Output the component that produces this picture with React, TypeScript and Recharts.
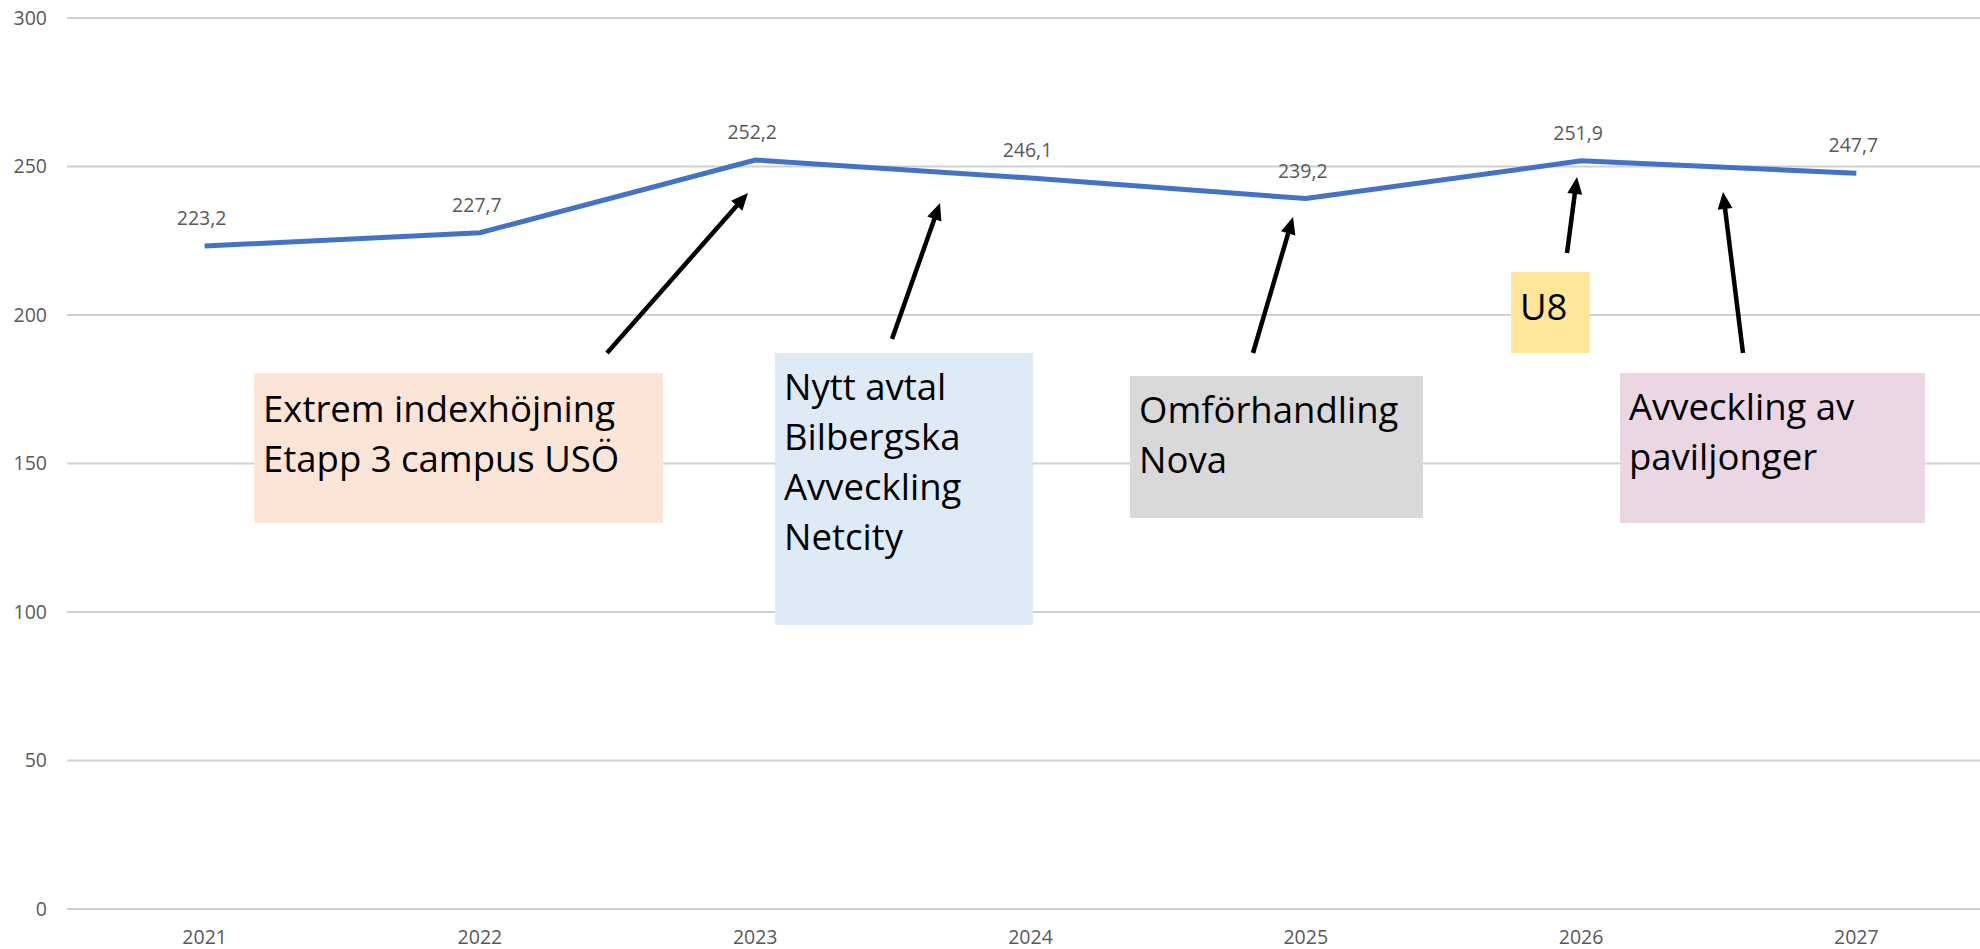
import React from 'react';
import { LineChart, Line, XAxis, YAxis, CartesianGrid, LabelList } from 'recharts';

// ---- data ----
const years: string[] = ['2021', '2022', '2023', '2024', '2025', '2026', '2027'];
const costs: number[] = [223.2, 227.7, 252.2, 246.1, 239.2, 251.9, 247.7];
const yTicks: number[] = [0, 50, 100, 150, 200, 250, 300];

const noteTexts: string[][] = [
  ['Extrem indexhöjning', 'Etapp 3 campus USÖ'],
  ['Nytt avtal', 'Bilbergska', 'Avveckling', 'Netcity'],
  ['Omförhandling', 'Nova'],
  ['U8'],
  ['Avveckling av', 'paviljonger'],
];

// ---- layout / style (annotation textboxes drawn over the chart) ----
const noteBoxes = [
  { left: 254, top: 373, width: 409, height: 150, bg: '#FBE5D6', pad: 10 },
  { left: 775, top: 353, width: 258, height: 272, bg: '#DEEBF7', pad: 8 },
  { left: 1130, top: 376, width: 293, height: 142, bg: '#D9D9D9', pad: 8 },
  { left: 1511, top: 272, width: 79, height: 81, bg: '#FFE699', pad: 9 },
  { left: 1620, top: 373, width: 305, height: 150, bg: '#EAD7E3', pad: 8 },
];
const arrows = [
  { x1: 607, y1: 353, x2: 748, y2: 193 },
  { x1: 892, y1: 339, x2: 940, y2: 203 },
  { x1: 1253, y1: 353, x2: 1293, y2: 217 },
  { x1: 1567, y1: 253, x2: 1577, y2: 177 },
  { x1: 1743, y1: 353, x2: 1723, y2: 192 },
];

const CHART_W = 1994;
const Y_AXIS_W = 67;
const HALF_BAND = (CHART_W - Y_AXIS_W) / years.length / 2;

const data = years.map((y, i) => ({ year: y, value: costs[i] }));
const fmt = (v: number) => v.toFixed(1).replace('.', ',');
const FONT = '"Open Sans", "Noto Sans", sans-serif';

const DataLabel = (props: any) => {
  const { x, y, value } = props;
  return (
    <text x={x - 3} y={y - 21} textAnchor="middle" fill="#595959" fontSize={19.5} fontFamily={FONT}>
      {fmt(Number(value))}
    </text>
  );
};

const Arrow = ({ x1, y1, x2, y2 }: { x1: number; y1: number; x2: number; y2: number }) => {
  const dx = x2 - x1;
  const dy = y2 - y1;
  const len = Math.sqrt(dx * dx + dy * dy);
  const ux = dx / len;
  const uy = dy / len;
  const headLen = 17;
  const headHalf = 7.5;
  const bx = x2 - ux * headLen;
  const by = y2 - uy * headLen;
  const px = -uy;
  const py = ux;
  return (
    <g>
      <line x1={x1} y1={y1} x2={bx + ux * 2} y2={by + uy * 2} stroke="#000" strokeWidth={4.5} />
      <polygon
        points={`${x2},${y2} ${bx + px * headHalf},${by + py * headHalf} ${bx - px * headHalf},${by - py * headHalf}`}
        fill="#000"
      />
    </g>
  );
};

export default function App() {
  return (
    <div
      style={{
        position: 'fixed',
        left: 0,
        top: 0,
        width: 1980,
        height: 949,
        overflow: 'hidden',
        background: '#ffffff',
      }}
    >
      <LineChart width={CHART_W} height={949} data={data} margin={{ top: 18, right: 0, bottom: 0, left: 0 }}>
        <CartesianGrid vertical={false} stroke="#D0D0D0" strokeWidth={2} />
        <XAxis
          dataKey="year"
          height={40}
          axisLine={false}
          tickLine={false}
          tickMargin={15}
          padding={{ left: HALF_BAND, right: HALF_BAND }}
          tick={{ fill: '#595959', fontSize: 19.5, fontFamily: FONT }}
        />
        <YAxis
          width={Y_AXIS_W}
          domain={[0, 300]}
          ticks={yTicks}
          axisLine={false}
          tickLine={false}
          tickMargin={14}
          tick={{ fill: '#595959', fontSize: 19.5, fontFamily: FONT }}
        />
        <Line
          type="linear"
          dataKey="value"
          stroke="#4472C4"
          strokeWidth={5}
          dot={false}
          isAnimationActive={false}
        >
          <LabelList dataKey="value" content={<DataLabel />} />
        </Line>
      </LineChart>

      {noteBoxes.map((b, i) => (
        <div
          key={i}
          style={{
            position: 'absolute',
            left: b.left,
            top: b.top,
            width: b.width,
            height: b.height,
            background: b.bg,
            boxSizing: 'border-box',
            paddingLeft: 9,
            paddingTop: b.pad,
            fontFamily: FONT,
            fontSize: 36.5,
            lineHeight: '50px',
            color: '#000',
            whiteSpace: 'nowrap',
          }}
        >
          {noteTexts[i].map((t, j) => (
            <div key={j}>{t}</div>
          ))}
        </div>
      ))}

      <svg
        width={1980}
        height={949}
        style={{ position: 'absolute', left: 0, top: 0, pointerEvents: 'none' }}
      >
        {arrows.map((a, i) => (
          <Arrow key={i} {...a} />
        ))}
      </svg>
    </div>
  );
}
